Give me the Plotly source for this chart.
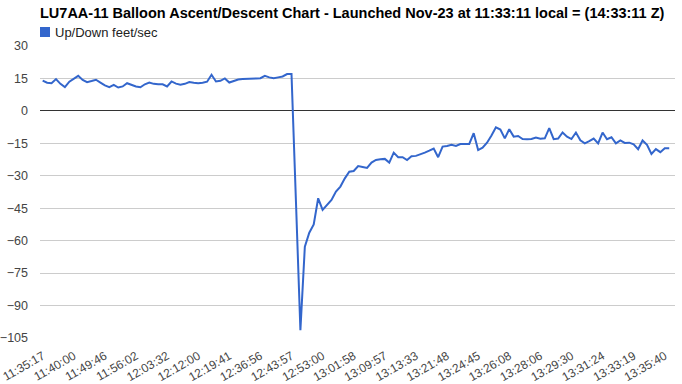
import plotly.graph_objects as go

title_text = "LU7AA-11 Balloon Ascent/Descent Chart - Launched Nov-23 at 11:33:11 local = (14:33:11 Z)"
series_name = "Up/Down feet/sec"

# time labels, one every 7 samples
x_tick_labels = ["11:35:17", "11:40:00", "11:49:46", "11:56:02", "12:03:32", "12:12:00",
                 "12:19:41", "12:36:56", "12:43:57", "12:53:00", "13:01:58", "13:09:57",
                 "13:13:33", "13:21:48", "13:24:45", "13:26:08", "13:28:06", "13:29:30",
                 "13:31:24", "13:33:19", "13:35:40"]
label_step = 7

up_down_fps = [
    14.0, 13.0, 12.8, 14.7, 12.5, 11.0, 13.5, 15.0, 16.2, 14.3,
    13.3, 13.8, 14.4, 13.1, 11.8, 11.0, 12.0, 10.8, 11.3, 12.8,
    12.0, 11.3, 10.9, 12.3, 13.1, 12.5, 12.3, 12.3, 11.3, 13.6,
    12.6, 12.1, 12.5, 13.3, 13.0, 12.8, 13.0, 13.5, 16.7, 13.6,
    13.9, 15.0, 13.1, 13.8, 14.5, 14.7, 14.7, 14.8, 15.0, 15.1,
    16.2, 15.5, 15.1, 15.5, 15.9, 17.0, 17.0, -42.0, -101.4, -62.8,
    -56.3, -52.5, -40.4, -45.8, -43.5, -41.2, -37.3, -35.0, -31.2, -28.1,
    -27.8, -25.5, -25.9, -26.4, -23.9, -22.7, -22.4, -22.2, -23.9, -19.3,
    -21.4, -21.4, -22.7, -21.0, -20.8, -20.2, -19.3, -18.4, -17.4, -21.4,
    -16.5, -16.2, -15.7, -16.2, -15.3, -15.3, -15.3, -10.3, -18.1, -17.0,
    -14.7, -11.4, -7.6, -8.6, -12.7, -8.5, -11.9, -11.6, -13.0, -13.1,
    -13.0, -12.3, -12.9, -12.7, -8.0, -13.1, -12.8, -10.0, -11.9, -13.0,
    -10.0, -13.6, -15.0, -14.0, -12.8, -15.0, -10.0, -13.1, -12.2, -15.0,
    -13.6, -14.8, -14.7, -15.5, -17.7, -13.7, -15.7, -19.9, -17.7, -19.1,
    -17.3, -17.3,
]

y_ticks = [30, 15, 0, -15, -30, -45, -60, -75, -90, -105]

sample_index = list(range(len(up_down_fps)))
tick_positions = [i * label_step for i in range(len(x_tick_labels))]

LINE = "#3366cc"
FONT = "Liberation Sans, Arial, sans-serif"

fig = go.Figure()
fig.add_trace(go.Scatter(
    x=sample_index, y=up_down_fps, mode="lines", name=series_name,
    line=dict(color=LINE, width=2), showlegend=False,
))

fig.update_layout(
    width=682, height=384,
    margin=dict(l=40, r=7, t=46, b=46),
    paper_bgcolor="white", plot_bgcolor="white",
    font=dict(family=FONT, size=13, color="#444444"),
    title=dict(text=title_text, x=40 / 682, xanchor="left", xref="container",
               y=1 - 13 / 384, yanchor="middle",
               font=dict(family=FONT, size=14.5, color="#000000", weight="bold")),
    xaxis=dict(range=[-0.6, 142.3], tickmode="array",
               tickvals=tick_positions, ticktext=x_tick_labels,
               tickangle=-30, showgrid=False, zeroline=False, showline=False,
               ticks="", ticklabelstandoff=8, automargin=False,
               ticklabeloverflow="allow",
               tickfont=dict(family=FONT, size=12, color="#444444")),
    yaxis=dict(range=[-105, 30], tickmode="array", tickvals=y_ticks,
               showgrid=True, gridcolor="#cccccc", gridwidth=1,
               zeroline=True, zerolinecolor="#333333", zerolinewidth=1,
               showline=False, ticks="", ticklabelstandoff=11, automargin=False,
               ticklabeloverflow="allow",
               tickfont=dict(family=FONT, size=12.5, color="#444444")),
    showlegend=False,
)

# legend swatch and label, as drawn by the original chart
fig.add_shape(type="rect", xref="paper", yref="paper",
              x0=0.0, x1=10 / 635, y0=1 + 9 / 292, y1=1 + 19 / 292,
              fillcolor=LINE, line=dict(width=0))
fig.add_annotation(text=series_name, xref="paper", yref="paper",
                   x=13 / 635, y=1 + 14 / 292, xanchor="left", yanchor="middle",
                   showarrow=False, font=dict(family=FONT, size=13, color="#222222"))

fig.write_html("out.html")
